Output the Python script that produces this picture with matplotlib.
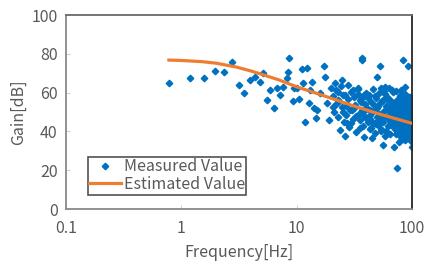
import numpy as np
import matplotlib
matplotlib.use("Agg")
import matplotlib.pyplot as plt

plt.rcParams['font.family'] = ['Noto Sans CJK JP', 'DejaVu Sans']

# 測定値 (周波数 Hz, ゲイン dB) - 図から読み取った値
meas_freq = [
    0.78, 1.2, 1.58, 1.97, 2.36, 2.77, 3.18, 3.52, 3.92, 4.36, 4.82, 5.14, 5.57, 5.9,
    6.32, 6.69, 7.18, 7.6, 8.2, 8.4, 8.65, 9.2, 9.5, 10.0, 10.5, 11.1, 11.4, 11.9,
    12.2, 12.7, 13.1, 13.6, 14.1, 14.7, 15.1, 15.8, 17.1, 17.5, 18.3, 19.2, 19.8,
    20.8, 21.7, 22.6, 23.9, 24.6, 25.4, 26.3, 27.2, 29.1, 31.0, 33.8, 35.4, 36.5,
    36.8, 38.2, 40.2, 43.5, 47.8, 49.6, 52.3, 53.8, 56.2, 58.6, 62.6, 68.5, 69.3,
    74.8, 83.5, 86.3, 92.9, 96.3, 99.5,
    # 20-40 Hz
    20.5, 21.2, 22.0, 22.8, 23.5, 24.1, 24.9, 25.6, 26.2, 27.0, 27.8, 28.5, 29.3,
    30.1, 30.8, 31.5, 32.3, 33.0, 33.8, 34.5, 35.2, 36.0, 36.6, 37.3, 38.0, 38.7,
    39.4, 21.8, 23.0, 25.0, 26.8, 28.0, 29.8, 31.2, 32.8, 34.2, 35.7, 37.0, 38.4, 39.8,
    # 40-70 Hz
    40.5, 41.2, 42.0, 42.8, 43.5, 44.1, 44.9, 45.6, 46.3, 47.0, 47.8, 48.5, 49.3,
    50.0, 50.8, 51.6, 52.4, 53.1, 53.9, 54.7, 55.5, 56.3, 57.0, 57.8, 58.6, 59.4,
    60.2, 61.0, 61.8, 62.6, 63.4, 64.2, 65.0, 65.8, 66.6, 67.4, 68.2, 69.0, 69.8,
    41.7, 43.0, 44.5, 46.0, 47.5, 49.0, 50.5, 52.0, 53.5, 55.0, 56.6, 58.0, 59.8,
    61.4, 63.0, 64.6, 66.2, 67.8, 69.4, 45.2, 54.3,
    # 70-100 Hz
    70.3, 70.9, 71.5, 72.1, 72.7, 73.3, 73.9, 74.5, 75.1, 75.7, 76.3, 76.9, 77.5,
    78.1, 78.7, 79.3, 79.9, 80.5, 81.1, 81.7, 82.3, 82.9, 83.5, 84.1, 84.7, 85.3,
    85.9, 86.5, 87.1, 87.7, 88.3, 88.9, 89.5, 90.1, 90.7, 91.3, 91.9, 92.5, 93.1,
    93.7, 94.3, 94.9, 95.5, 96.1, 96.7, 97.3, 97.9, 98.5, 99.1, 99.7,
    71.2, 72.4, 73.6, 74.8, 76.0, 77.2, 78.4, 79.6, 80.8, 82.0, 83.2, 84.4, 85.6,
    86.8, 88.0, 89.2, 90.4, 91.6, 92.8, 94.0, 95.2, 96.4, 97.6, 98.8, 99.4,
    73.0, 76.6, 80.2, 83.8, 87.4, 91.0, 94.6, 98.2,
    71.8, 75.4, 79.0, 82.6, 86.2, 89.8, 93.4, 97.0,
]
meas_gain = [
    65.1, 67.4, 67.4, 71.3, 70.4, 75.9, 64.1, 59.6, 66.5, 67.9, 65.6, 70.3, 56.2, 61.3,
    51.9, 62.2, 58.8, 63.1, 67.4, 70.8, 78.0, 55.7, 62.5, 62.2, 56.5, 72.0, 64.8, 45.0,
    72.8, 54.5, 61.3, 65.6, 51.9, 46.7, 51.0, 59.6, 73.9, 68.2, 54.5, 45.9, 62.2,
    52.7, 65.1, 56.2, 40.7, 66.5, 58.8, 37.6, 44.2, 51.0, 61.3, 62.2, 56.2, 78.0,
    76.8, 37.3, 59.6, 51.0, 44.2, 68.2, 73.9, 62.2, 33.0, 63.1, 62.2, 60.5, 32.1,
    21.0, 76.8, 62.7, 73.9, 58.0, 32.1,
    # 20-40 Hz
    58.1, 50.2, 61.5, 47.3, 55.6, 63.2, 52.4, 44.8, 59.0, 48.5, 56.7, 42.1, 60.3,
    50.9, 46.2, 57.8, 53.4, 39.6, 62.0, 49.1, 45.7, 55.0, 51.3, 43.0, 58.6, 47.9,
    54.2, 54.0, 60.1, 49.8, 53.1, 64.0, 44.6, 52.0, 48.0, 59.3, 41.9, 57.2, 50.4, 46.8,
    # 40-70 Hz
    52.3, 45.1, 58.9, 48.7, 41.2, 55.4, 50.0, 61.8, 44.3, 53.7, 39.2, 57.1, 47.6,
    51.9, 43.5, 59.6, 46.0, 54.8, 40.4, 49.5, 56.3, 44.9, 60.7, 51.1, 37.8, 53.2,
    47.3, 58.0, 42.6, 50.6, 55.9, 45.6, 38.9, 52.7, 48.2, 61.2, 43.9, 54.5, 49.0,
    57.5, 46.4, 42.0, 50.3, 58.4, 44.0, 53.0, 48.9, 41.5, 55.7, 47.0, 59.2, 40.0,
    51.6, 46.7, 56.1, 43.2, 49.8, 52.5, 36.4, 45.3,
    # 70-100 Hz
    48.2, 41.5, 53.6, 45.0, 50.9, 38.7, 56.2, 46.8, 43.1, 51.7, 40.2, 54.9, 47.5,
    44.4, 58.3, 49.6, 36.9, 52.1, 45.8, 42.7, 55.4, 48.9, 39.8, 50.3, 46.1, 53.0,
    41.0, 57.1, 47.2, 44.9, 51.2, 38.0, 49.3, 54.4, 42.3, 46.6, 52.8, 40.7, 48.0,
    45.4, 55.8, 43.6, 50.0, 37.4, 47.9, 53.3, 41.8, 49.1, 45.2, 51.5,
    44.0, 52.4, 39.1, 47.7, 55.0, 42.5, 50.6, 46.3, 58.9, 40.9, 48.6, 43.8, 53.8,
    35.5, 49.9, 45.6, 41.4, 54.1, 47.0, 39.4, 52.2, 44.7, 50.8, 42.9, 48.4,
    60.8, 34.6, 61.5, 36.2, 59.4, 38.5, 57.7, 35.0,
    46.0, 49.0, 43.3, 51.0, 44.2, 47.4, 42.0, 50.1,
]

# 推定値の曲線
est_freq = [0.78, 1, 1.5, 2, 3, 4, 5, 7, 10, 15, 20, 30, 50, 70, 100]
est_gain = [76.8, 76.6, 76.0, 75.2, 73.2, 71.2, 69.4, 66.6, 63.0, 59.6, 57.1, 53.5, 49.3, 46.8, 44.2]

text_color = '#595959'
fs = 11.5

fig = plt.figure(figsize=(4.36, 2.74), dpi=100)
ax = fig.add_axes([0.1514, 0.237, 0.7936, 0.708])

ax.plot(meas_freq, meas_gain, linestyle='none', marker='D', markersize=3.3,
        color='#0070C0', label='Measured Value', zorder=2)
ax.plot(est_freq, est_gain, color='#ED7D31', linewidth=2.3,
        label='Estimated Value', zorder=3)

ax.set_xscale('log')
ax.set_xlim(0.1, 100)
ax.set_ylim(0, 100)
ax.set_xticks([0.1, 1, 10, 100])
ax.set_xticklabels(['0.1', '1', '10', '100'])
ax.set_yticks([0, 20, 40, 60, 80, 100])
ax.minorticks_off()

ax.tick_params(axis='both', direction='in', length=3, width=0.8, color='#d0d0d0',
               labelsize=fs, labelcolor=text_color)
ax.tick_params(axis='x', pad=8)
ax.tick_params(axis='y', pad=6)

for side in ['left', 'bottom']:
    ax.spines[side].set_color('#898989')
    ax.spines[side].set_linewidth(1.3)
ax.spines['top'].set_color('#6a6a6a')
ax.spines['top'].set_linewidth(1.3)
ax.spines['right'].set_color('#262626')
ax.spines['right'].set_linewidth(1.3)

ax.set_xlabel('Frequency[Hz]', fontsize=fs, color=text_color, labelpad=5)
ax.set_ylabel('Gain[dB]', fontsize=fs, color=text_color, labelpad=3)

leg = ax.legend(loc='lower left', bbox_to_anchor=(0.063, 0.075), fontsize=fs,
                frameon=True, fancybox=False, borderpad=0.1, labelspacing=0.05,
                handlelength=2.0, handletextpad=0.15, borderaxespad=0)
leg.get_frame().set_edgecolor('#262626')
leg.get_frame().set_linewidth(1.2)
for t in leg.get_texts():
    t.set_color(text_color)

fig.savefig('out.png', dpi=100)
